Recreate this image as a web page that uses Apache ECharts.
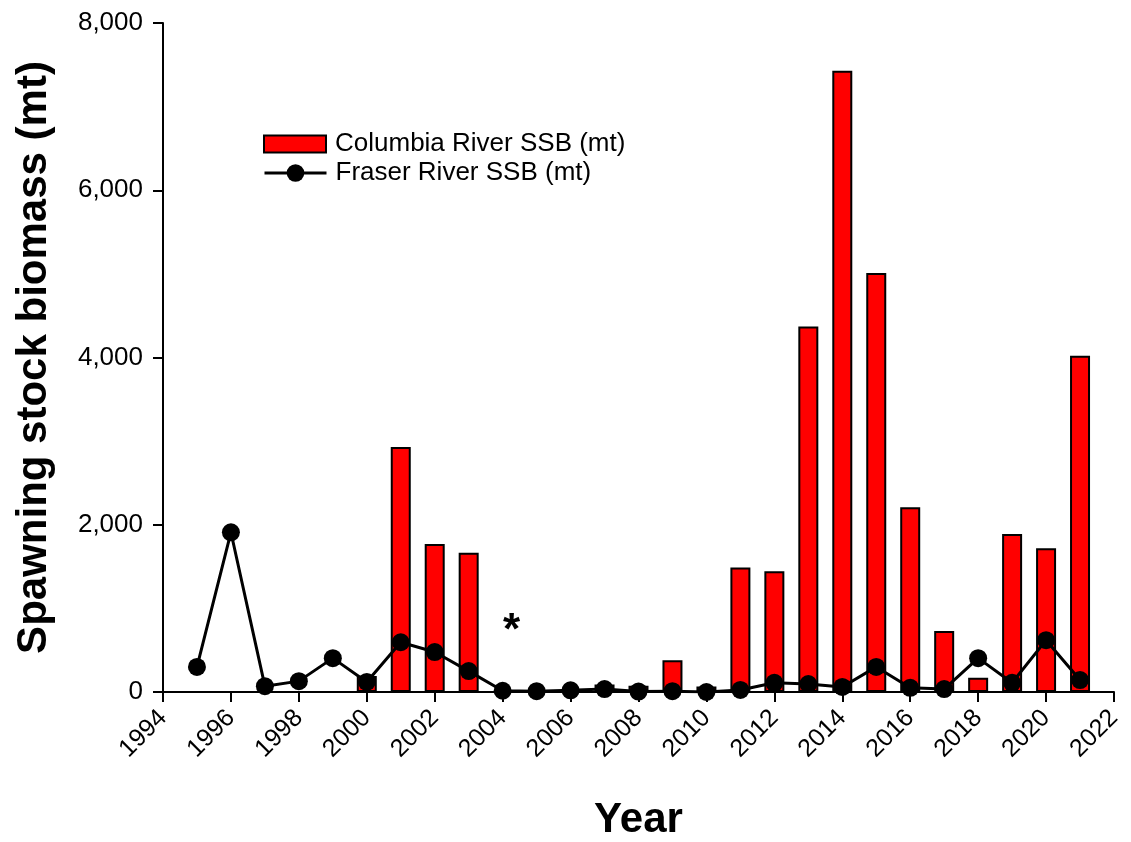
<!DOCTYPE html>
<html>
<head>
<meta charset="utf-8">
<script src="https://cdn.jsdelivr.net/npm/echarts@6/dist/echarts.min.js"></script>
<style>html,body{margin:0;padding:0;background:#fff;}#c{width:1131px;height:842px;}</style>
</head>
<body>
<div id="c"></div>
<script>
var columbiaYears = [2000, 2001, 2002, 2003, 2007, 2008, 2009, 2010, 2011, 2012, 2013, 2014, 2015, 2016, 2017, 2018, 2019, 2020, 2021];
var columbiaSSB  = [190, 2930, 1770, 1665, 90, 75, 380, 65, 1490, 1445, 4370, 7430, 5010, 2210, 730, 170, 1890, 1720, 4020];
var fraserYears = [1995, 1996, 1997, 1998, 1999, 2000, 2001, 2002, 2003, 2004, 2005, 2006, 2007, 2008, 2009, 2010, 2011, 2012, 2013, 2014, 2015, 2016, 2017, 2018, 2019, 2020, 2021];
var fraserSSB  = [300, 1910, 70, 130, 405, 120, 595, 478, 250, 15, 10, 20, 35, 5, 10, 0, 25, 110, 95, 60, 300, 50, 35, 405, 110, 620, 143];
var yTicks = [0, 2000, 4000, 6000, 8000];
var noteYear = 2004, noteValue = 720;

var font = "Arial, 'Liberation Sans', sans-serif";
var legendText = {fontFamily: font, fontSize: 26, color: '#000', padding: [0, 0, 0, 4]};
var chart = echarts.init(document.getElementById('c'));
chart.setOption({
  animation: false,
  backgroundColor: '#fff',
  grid: {left: 163, right: 17, top: 23, bottom: 150, containLabel: false, outerBoundsMode: 'none'},
  legend: [
    {
      left: 258, top: 126, itemWidth: 62, itemHeight: 17,
      textStyle: legendText,
      data: [{name: 'Columbia River SSB (mt)', icon: 'rect'}]
    },
    {
      left: 258, top: 155, itemWidth: 62, itemHeight: 22,
      textStyle: legendText,
      lineStyle: {width: 3},
      data: [{name: 'Fraser River SSB (mt)'}]
    }
  ],
  xAxis: {
    type: 'value', min: 1994, max: 2022, interval: 2,
    name: 'Year', nameLocation: 'middle', nameGap: 107,
    nameTextStyle: {fontFamily: font, fontSize: 42, fontWeight: 'bold', color: '#000'},
    axisLine: {lineStyle: {color: '#000', width: 2}},
    axisTick: {show: true, length: 10, lineStyle: {color: '#000', width: 2}},
    axisLabel: {rotate: 45, fontFamily: font, fontSize: 25, color: '#000', margin: 22,
      formatter: function (v) { return String(v); }},
    splitLine: {show: false}
  },
  yAxis: {
    type: 'value', min: yTicks[0], max: yTicks[yTicks.length - 1], interval: 2000,
    name: 'Spawning stock biomass (mt)', nameLocation: 'middle', nameGap: 108,
    nameTextStyle: {fontFamily: font, fontSize: 42, fontWeight: 'bold', color: '#000'},
    axisLine: {show: true, lineStyle: {color: '#000', width: 2}},
    axisTick: {show: true, length: 10, lineStyle: {color: '#000', width: 2}},
    axisLabel: {fontFamily: font, fontSize: 26, color: '#000', margin: 20},
    splitLine: {show: false}
  },
  series: [
    {
      name: 'Columbia River SSB (mt)', type: 'bar', barWidth: 20,
      itemStyle: {color: '#ff0000', borderColor: '#000', borderWidth: 2},
      data: columbiaYears.map(function (y, i) { return [y, columbiaSSB[i]]; }),
      markPoint: {
        symbol: 'circle', symbolSize: 1, itemStyle: {color: 'rgba(0,0,0,0)'},
        label: {show: true, formatter: '*', fontFamily: font, fontSize: 44, fontWeight: 'bold', color: '#000', position: 'inside', offset: [9, 0]},
        data: [{coord: [noteYear, noteValue]}]
      },
      z: 2
    },
    {
      name: 'Fraser River SSB (mt)', type: 'line', symbol: 'circle', symbolSize: 18,
      lineStyle: {color: '#000', width: 3}, itemStyle: {color: '#000'},
      data: fraserYears.map(function (y, i) { return [y, fraserSSB[i]]; }),
      z: 3
    }
  ]
});
</script>
</body>
</html>
